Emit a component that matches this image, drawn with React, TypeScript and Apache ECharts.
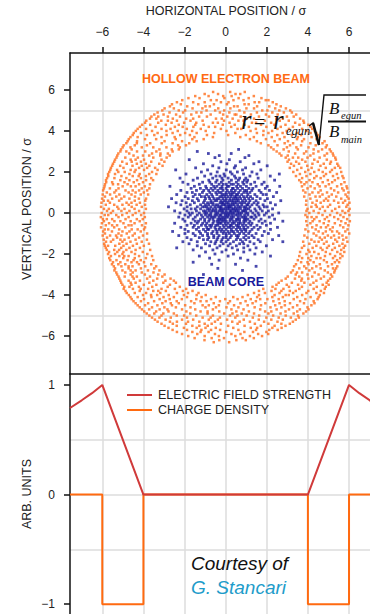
import React, { useEffect, useRef } from 'react';
import * as echarts from 'echarts';

// ---------- tick labels / grid values ----------
const xTicks = [-6, -4, -2, 0, 2, 4, 6];
const yTicksTop = [-6, -4, -2, 0, 2, 4, 6];
const yTicksBottom = [-1, 0, 1];
const yGridTop = [-5, 0, 5];
const yGridBottom = [-0.5, 0, 0.5];

// ---------- hollow electron beam (rows: [y, x-values]) ----------
const hollowRows: [number, number[]][] = [
  [5.9, [-0.61, 0.22, 0.93]],
  [5.8, [-1.02, -0.37, 0.48, 0.71]],
  [5.7, [-1.48, -0.83, -0.12, 0.29, 1.37]],
  [5.6, [-1.81, -1.27, -0.06, 0.63, 1.12, 1.74]],
  [5.5, [-2.11, -0.72, -0.44, 0.38, 0.87, 1.95, 2.08]],
  [5.4, [-2.37, -1.58, -1.02, 0.14, 1.41, 1.63, 2.29, -0.23]],
  [5.3, [-2.61, -2.18, -1.33, -0.57, 0.06, 0.92, 2.47, 1.12]],
  [5.2, [-2.71, -1.87, -0.98, -0.77, 0.41, 0.58, 1.53, 2.12, 2.68]],
  [5.1, [-2.97, -2.52, -1.61, -0.36, 0.23, 1.01, 1.38, 2.41, 2.93, -1.13]],
  [5.0, [-3.08, -2.28, -1.97, -0.93, -0.51, 0.67, 1.78, 2.03, 2.61, 3.14, -0.07]],
  [4.9, [-3.31, -2.73, -1.42, -1.18, -0.28, 0.18, 0.91, 1.52, 2.27, 2.83, 3.22, -2.07]],
  [4.8, [-3.47, -3.02, -2.41, -1.67, -0.73, 0.44, 0.52, 1.23, 1.96, 2.53, 3.43, -0.12]],
  [4.7, [-3.61, -2.81, -2.22, -1.29, -0.91, 0.08, 0.73, 1.62, 2.11, 2.98, 3.31, -3.28]],
  [4.6, [-3.68, -3.37, -1.92, -1.58, -0.47, -0.19, 1.03, 1.38, 2.47, 2.78, 3.62, 0.34, -2.57]],
  [4.5, [-3.86, -3.13, -2.37, -1.71, -1.12, -0.08, 0.62, 0.87, 1.91, 2.63, 3.07, 3.78, -2.81]],
  [4.4, [-3.92, -3.28, -2.63, -2.02, -0.62, -0.38, 0.19, 1.28, 1.48, 2.21, 3.38, 3.81, -1.43]],
  [4.3, [-4.06, -3.67, -2.91, -1.48, -1.07, -0.14, 0.44, 0.92, 1.72, 2.37, 2.91, 3.59, 4.02, -2.28]],
  [4.2, [-4.17, -3.41, -2.47, -2.09, -0.82, -0.51, 0.27, 1.13, 1.98, 2.68, 3.27, 4.13, -1.57]],
  [4.1, [-4.28, -3.87, -3.12, -2.68, -1.89, -0.23, 0.58, 0.76, 1.47, 2.52, 3.08, 3.72, 4.21, -1.21]],
  [4.0, [-4.37, -3.58, -2.88, -2.33, -1.63, -0.97, 0.04, 1.21, 1.84, 2.26, 2.97, 3.93, 4.33]],
  [3.9, [-4.47, -4.12, -3.31, -2.58, -1.97, -1.41, -0.56, 0.47, 1.52, 2.08, 2.77, 3.48, 4.13, 4.41]],
  [3.8, [-4.52, -3.83, -3.47, -2.21, -1.74, -0.91, 0.12, 0.98, 1.83, 2.51, 3.22, 3.67, 4.48, -2.87]],
  [3.7, [-4.63, -4.28, -3.12, -2.48, -1.52, -0.62, 0.71, 1.37, 2.24, 2.86, 3.51, 4.18, 4.57]],
  [3.6, [-4.71, -3.92, -3.38, -2.43, -1.62, -1.07, 1.18, 1.96, 2.63, 3.47, 3.81, 4.42]],
  [3.5, [-4.77, -4.31, -2.97, -2.12, -1.41, 1.52, 2.38, 3.03, 3.72, 4.53, 4.81]],
  [3.4, [-4.83, -3.67, -3.11, -2.58, -1.77, -4.32, 1.71, 2.87, 3.28, 4.12, 4.71]],
  [3.3, [-4.96, -4.42, -3.83, -2.31, -1.93, 2.08, 2.52, 3.67, 4.38, 4.92, 3.13]],
  [3.2, [-5.01, -4.08, -3.52, -2.88, -2.23, -4.63, 2.21, 2.98, 3.44, 4.03, 4.87]],
  [3.1, [-5.09, -4.57, -3.22, -2.62, -2.28, 2.33, 3.51, 4.28, 4.69, 5.06, 2.82]],
  [3.0, [-5.12, -4.31, -3.91, -3.37, -2.58, -4.83, 2.48, 3.07, 3.92, 4.51, 5.12]],
  [2.9, [-5.22, -4.69, -3.58, -2.81, -3.17, 2.62, 3.38, 3.81, 4.27, 4.93, 5.21]],
  [2.8, [-5.27, -4.48, -4.02, -3.18, -2.72, -3.72, 2.71, 3.02, 4.12, 4.81, 5.24]],
  [2.7, [-5.31, -4.88, -4.27, -3.52, -2.87, 2.92, 3.53, 3.98, 4.57, 5.33, 3.27]],
  [2.6, [-5.38, -4.62, -3.97, -3.12, -4.38, 3.08, 3.72, 4.31, 4.92, 5.36]],
  [2.5, [-5.42, -5.03, -4.12, -3.62, -2.98, -4.57, 3.01, 3.88, 4.48, 5.12, 3.43]],
  [2.4, [-5.48, -4.81, -3.88, -3.23, -4.32, 3.18, 3.57, 4.22, 4.77, 5.43, 5.08]],
  [2.3, [-5.52, -5.13, -4.53, -3.71, -3.07, -4.08, 3.32, 3.97, 4.61, 5.48]],
  [2.2, [-5.58, -4.97, -4.21, -3.43, -3.82, 3.12, 3.68, 4.18, 4.87, 5.31, 5.57]],
  [2.1, [-5.61, -5.28, -4.62, -3.97, -3.31, -4.38, 3.48, 4.02, 4.53, 5.17]],
  [2.0, [-5.66, -4.91, -4.43, -3.58, -5.22, 3.29, 3.87, 4.72, 5.08, 5.62, 4.31]],
  [1.9, [-5.72, -5.38, -4.18, -3.72, -3.37, -4.68, 3.61, 4.12, 4.88, 5.41]],
  [1.8, [-5.71, -5.07, -4.52, -3.88, -4.23, 3.42, 3.93, 4.42, 5.22, 5.68, 4.78]],
  [1.7, [-5.77, -5.41, -4.83, -3.62, -4.12, 3.72, 4.31, 4.62, 5.47, 5.73]],
  [1.6, [-5.82, -5.12, -4.68, -4.31, -3.53, -3.87, 3.58, 4.08, 4.97, 5.31]],
  [1.5, [-5.81, -5.52, -4.92, -4.02, -4.47, 3.67, 4.22, 4.72, 5.18, 5.78, 3.93]],
  [1.4, [-5.87, -5.23, -4.77, -3.68, -4.21, -5.48, 3.83, 4.48, 5.02, 5.62]],
  [1.3, [-5.89, -5.01, -4.38, -3.93, -4.61, 3.71, 4.13, 4.86, 5.42, 5.88, 4.57]],
  [1.2, [-5.92, -5.63, -5.21, -4.08, -3.71, 3.98, 4.33, 5.12, 5.67, 5.91]],
  [1.1, [-5.96, -4.87, -4.52, -3.82, -5.33, -4.21, 3.77, 4.62, 5.28, 5.74]],
  [1.0, [-5.78, -5.41, -4.72, -3.98, -4.38, 3.88, 4.22, 4.93, 5.47, 5.97, 4.51]],
  [0.9, [-5.98, -5.17, -4.58, -4.13, -3.77, -5.62, 4.08, 4.71, 5.16, 5.83]],
  [0.8, [-5.87, -5.32, -4.93, -4.41, 3.82, 4.37, 4.58, 5.38, 5.91, 5.02]],
  [0.7, [-6.01, -5.52, -5.07, -4.68, -3.87, -4.22, 4.12, 4.88, 5.62, 5.98]],
  [0.6, [-5.72, -5.18, -4.42, -3.91, -5.93, 3.92, 4.43, 4.78, 5.27, 5.81, 4.98]],
  [0.5, [-6.04, -5.63, -4.82, -4.17, -4.58, 4.22, 4.62, 5.48, 5.71, 6.02]],
  [0.4, [-5.83, -5.42, -5.02, -4.33, -3.92, -4.71, 3.91, 4.38, 5.08, 5.93]],
  [0.3, [-6.06, -5.27, -4.57, -4.08, 4.17, 4.72, 4.97, 5.52, 5.87, 4.43]],
  [0.2, [-5.92, -5.68, -4.92, -4.43, -3.88, -5.21, 3.98, 4.58, 5.33, 6.03]],
  [0.1, [-5.77, -5.07, -4.68, -4.21, -5.48, 4.28, 4.83, 5.17, 5.68, 5.97, 3.93]],
  [0.0, [-6.03, -5.58, -4.81, -3.97, -4.38, 4.07, 4.52, 5.42, 5.81]],
  [-0.1, [-5.88, -5.32, -5.03, -4.52, -4.11, -5.71, 3.88, 4.71, 5.08, 5.58, 6.02]],
  [-0.2, [-6.07, -5.21, -4.72, -3.93, 4.18, 4.42, 4.93, 5.73, 5.28, 3.97]],
  [-0.3, [-5.78, -5.52, -4.87, -4.32, -4.03, -5.97, 4.31, 4.82, 5.47, 5.91]],
  [-0.4, [-5.92, -5.12, -4.62, -4.18, -5.41, 3.92, 4.57, 5.02, 5.62, 6.04, 4.23]],
  [-0.5, [-6.02, -5.67, -4.97, -4.43, -3.88, 4.12, 4.77, 5.31, 5.83]],
  [-0.6, [-5.83, -5.28, -4.72, -4.07, -5.52, -4.58, 3.96, 4.42, 4.98, 5.57, 5.97]],
  [-0.7, [-6.06, -5.42, -4.88, -3.92, 4.21, 4.63, 5.21, 5.72, 4.88]],
  [-0.8, [-5.71, -5.18, -4.57, -4.28, -3.97, -5.88, 3.88, 4.38, 5.08, 5.93]],
  [-0.9, [-5.96, -5.53, -5.02, -4.68, -4.13, 4.02, 4.52, 4.87, 5.42, 5.82, 5.18]],
  [-1.0, [-5.87, -5.21, -4.81, -3.82, -4.42, 4.28, 4.73, 5.52, 6.01]],
  [-1.1, [-5.98, -5.62, -5.07, -4.52, -4.02, -5.33, 3.83, 4.41, 4.97, 5.68, 5.27]],
  [-1.2, [-5.77, -5.28, -4.71, -4.21, 3.97, 4.58, 5.13, 5.87, 4.82, 5.51]],
  [-1.3, [-5.93, -5.47, -4.92, -4.38, -3.83, -5.12, 4.17, 4.68, 5.33, 5.72]],
  [-1.4, [-5.82, -5.58, -4.63, -4.08, -5.02, 3.77, 4.32, 4.91, 5.42, 5.92, 4.52]],
  [-1.5, [-5.91, -5.17, -4.82, -4.32, -3.73, 4.07, 4.78, 5.23, 5.68]],
  [-1.6, [-5.72, -5.37, -4.97, -4.51, -3.98, -5.88, 3.82, 4.41, 5.02, 5.53, 5.81]],
  [-1.7, [-5.83, -5.08, -4.68, -4.17, 3.71, 4.23, 4.62, 5.31, 5.74, 4.93]],
  [-1.8, [-5.78, -5.42, -4.83, -4.38, -3.67, -5.18, 4.02, 4.71, 5.18, 5.62]],
  [-1.9, [-5.67, -5.27, -4.58, -4.03, -4.97, 3.62, 4.31, 4.87, 5.43, 5.77, 4.08]],
  [-2.0, [-5.72, -5.02, -4.41, -3.81, -5.38, 3.93, 4.52, 5.08, 5.58]],
  [-2.1, [-5.58, -5.17, -4.72, -4.21, -3.58, -4.93, 3.58, 4.17, 4.83, 5.32, 5.68]],
  [-2.2, [-5.66, -4.98, -4.42, -3.88, 3.72, 4.42, 4.61, 5.22, 5.57, 4.02]],
  [-2.3, [-5.61, -5.31, -4.77, -4.13, -3.52, -4.48, 3.51, 4.12, 4.78, 5.42]],
  [-2.4, [-5.48, -5.12, -4.58, -3.97, -4.31, 3.67, 4.28, 4.92, 5.31, 5.52, 3.98]],
  [-2.5, [-5.53, -4.88, -4.22, -3.62, -5.22, 3.42, 4.03, 4.58, 5.17]],
  [-2.6, [-5.44, -5.07, -4.53, -3.91, -3.38, -4.72, 3.33, 3.82, 4.41, 4.98, 5.43]],
  [-2.7, [-5.38, -4.72, -4.12, -3.47, 3.58, 3.92, 4.62, 5.22, 5.37, 4.21]],
  [-2.8, [-5.41, -5.02, -4.38, -3.78, -3.22, -4.62, 3.27, 4.07, 4.82, 5.31]],
  [-2.9, [-5.32, -4.88, -4.08, -3.51, -4.52, 3.18, 3.72, 4.33, 4.97, 5.28, 3.47]],
  [-3.0, [-5.28, -4.62, -3.93, -3.28, -2.97, 3.41, 3.98, 4.52, 5.12]],
  [-3.1, [-5.21, -4.91, -4.32, -3.68, -3.08, -4.53, 3.02, 3.58, 4.21, 4.78, 5.18]],
  [-3.2, [-5.17, -4.47, -3.82, -3.33, -2.68, 2.92, 3.37, 4.02, 4.63, 5.08, 3.71]],
  [-3.3, [-5.12, -4.72, -4.17, -3.52, -2.93, -2.52, 2.72, 3.68, 4.41, 4.98]],
  [-3.4, [-5.08, -4.38, -3.71, -3.03, -2.42, -4.62, 2.58, 3.22, 3.83, 4.27, 4.91]],
  [-3.5, [-5.02, -4.58, -3.98, -3.37, -2.71, 2.47, 2.97, 3.52, 4.12, 4.72, 5.01]],
  [-3.6, [-4.93, -4.22, -3.57, -2.82, -2.23, -4.68, 2.28, 3.08, 3.71, 4.43, 4.87]],
  [-3.7, [-4.96, -4.51, -3.77, -3.12, -2.47, -1.92, 1.83, 2.42, 2.81, 3.58, 4.28, 4.82, -4.13]],
  [-3.8, [-4.87, -4.18, -3.52, -2.91, -2.08, -1.61, 1.62, 2.23, 3.12, 3.41, 4.02, 4.63, -3.28, 2.71]],
  [-3.9, [-4.81, -4.42, -3.87, -3.18, -2.37, -1.83, -1.32, 1.38, 1.91, 2.62, 3.28, 3.93, 4.41, 4.78]],
  [-4.0, [-4.71, -4.02, -3.33, -2.77, -2.03, -1.41, -0.97, 1.08, 1.62, 2.38, 3.07, 3.72, 4.58, -3.63, 2.92]],
  [-4.1, [-4.63, -4.28, -3.61, -2.52, -1.88, -1.17, -0.48, 0.37, 0.82, 1.53, 2.27, 2.78, 3.48, 4.13, 4.52, -3.02]],
  [-4.2, [-4.57, -3.97, -3.21, -2.72, -2.13, -1.43, -0.71, -0.02, 0.58, 1.22, 2.03, 2.58, 3.31, 3.88, 4.47, 1.68]],
  [-4.3, [-4.48, -4.12, -3.48, -2.92, -2.38, -1.68, -0.93, -0.28, 0.21, 0.97, 1.47, 2.32, 2.87, 3.62, 4.28, -1.22]],
  [-4.4, [-4.38, -3.77, -3.08, -2.28, -1.52, -0.58, 0.12, 0.72, 1.31, 1.93, 2.62, 3.13, 3.81, 4.32, -2.67]],
  [-4.5, [-4.28, -3.92, -3.32, -2.61, -1.97, -1.12, -0.33, 0.41, 1.07, 1.72, 2.41, 3.48, 4.17, -0.82, 2.88]],
  [-4.6, [-4.18, -3.58, -2.98, -2.42, -1.71, -0.98, 0.04, 0.62, 1.41, 2.18, 2.71, 3.27, 3.98, -0.47]],
  [-4.7, [-4.07, -3.72, -3.21, -2.12, -1.48, -0.62, 0.28, 0.87, 1.68, 2.48, 3.08, 3.61, 4.03, -2.83]],
  [-4.8, [-3.96, -3.38, -2.78, -1.91, -1.22, -0.31, 0.52, 1.13, 1.92, 2.22, 2.91, 3.48, 3.91, -0.88]],
  [-4.9, [-3.84, -3.47, -2.52, -1.72, -0.88, -0.07, 0.78, 1.38, 2.08, 2.67, 3.31, 3.78, -3.03, 0.33]],
  [-5.0, [-3.71, -3.12, -2.38, -1.43, -0.62, 0.21, 1.02, 1.63, 2.31, 2.92, 3.52, -2.02, 0.57]],
  [-5.1, [-3.58, -3.22, -2.67, -1.88, -1.12, -0.28, 0.47, 1.32, 1.98, 2.58, 3.17, 3.56, -0.73]],
  [-5.2, [-3.44, -2.92, -2.12, -1.58, -0.82, 0.07, 0.88, 1.61, 2.22, 2.78, 3.41, -0.38]],
  [-5.3, [-3.31, -2.71, -2.37, -1.28, -0.52, 0.32, 1.18, 1.87, 2.52, 3.27, -1.83, 0.68]],
  [-5.4, [-3.12, -2.57, -1.93, -1.02, -0.23, 0.58, 1.42, 2.08, 2.71, 3.12, -0.68]],
  [-5.5, [-2.97, -2.38, -1.62, -0.87, 0.12, 0.92, 1.71, 2.38, 2.91, -1.28]],
  [-5.6, [-2.78, -2.03, -1.41, -0.48, 0.37, 1.22, 1.53, 2.27, 2.72, -0.98]],
  [-5.7, [-2.58, -1.88, -1.18, -0.27, 0.62, 1.48, 2.12, 2.53, -0.71]],
  [-5.8, [-2.37, -1.62, -0.83, 0.03, 0.91, 1.33, 1.98, -1.22]],
  [-5.9, [-2.12, -1.38, -0.52, 0.28, 0.72, 1.58, 2.07]],
  [-6.0, [-1.82, -1.02, -0.33, 0.47, 1.18, 1.77]],
  [-6.1, [-1.51, -0.68, -0.08, 0.82, 1.37]],
  [-6.2, [-1.03, -0.31, 0.52, 0.98]],
  [-6.3, [-0.58, 0.17]],
];

// ---------- beam core (rows: [y, x-values]) ----------
const coreRows: [number, number[]][] = [
  [3.1, [0.63]],
  [3.0, [-1.38]],
  [2.9, [0.27, -0.84]],
  [2.8, [1.13, -0.31]],
  [2.7, [-0.52, 0.94]],
  [2.6, [-1.77, 0.18]],
  [2.5, [0.71, -0.23, 1.62]],
  [2.4, [-1.08, 1.37, 0.06]],
  [2.3, [0.48, -0.63, 2.02]],
  [2.2, [-0.33, 0.97, -1.46, 0.42]],
  [2.1, [0.82, -0.88, 0.03, 1.71, -2.43]],
  [2.0, [-0.41, 0.57, -1.18, 1.28, 0.23]],
  [1.9, [0.87, -0.72, 0.31, -1.93, 1.52, -0.08, 2.61]],
  [1.8, [-0.47, 1.18, 0.43, -1.02, -0.04, 2.17, -0.28]],
  [1.7, [0.68, -1.37, 0.12, 1.58, -0.63, 0.49, -0.18, 0.98, -2.22]],
  [1.6, [-0.82, 0.28, 1.07, -1.58, 0.62, -0.13, 2.38, -0.42, 0.91]],
  [1.5, [0.17, -1.12, 0.83, -0.48, 1.41, -2.08, 0.52, -0.21, 1.03, -0.77, 1.87]],
  [1.4, [-0.32, 0.61, -1.28, 1.22, 0.03, -0.68, 1.76, 0.38, -1.83, 0.88, -0.12, 0.27]],
  [1.3, [0.72, -0.43, 1.48, -0.97, 0.16, -0.58, 2.63, 0.53, -1.52, 1.01, -0.18, 0.08, -2.71, 2.02]],
  [1.2, [-0.93, 0.37, 1.32, -0.17, 0.82, -1.68, 0.02, 1.93, -0.52, 0.58, -1.23, 1.13, -0.27, 0.33, -0.71]],
  [1.1, [0.47, -1.42, 0.08, 1.02, -0.62, 1.63, -0.13, 0.71, -2.18, 0.28, -0.83, 1.27, -0.38, 0.92, 2.13, -1.07]],
  [1.0, [-0.22, 0.88, -1.13, 0.42, 1.72, -0.48, 0.02, -1.62, 1.18, 0.63, -0.77, 2.48, -0.33, 0.17, 1.02, -1.88, 0.31]],
  [0.9, [0.32, -0.68, 1.42, -1.27, 0.78, -0.07, 0.51, -2.38, 1.08, -0.43, 0.04, 1.82, -0.92, 0.58, -1.48, 0.22, 1.98, -0.18]],
  [0.8, [-0.63, 1.03, 0.12, -1.18, 0.68, -0.28, 1.52, -1.97, 0.43, -0.82, 1.21, -0.03, -1.58, 0.87, -0.17, 2.32, 0.52, -1.02, 0.27]],
  [0.7, [0.58, -0.42, 1.31, -0.98, 0.21, -1.82, 0.92, -0.13, 1.68, -0.57, 0.37, -2.63, 1.12, -0.32, 0.03, -1.38, 0.73, 2.03, -0.78, 0.48]],
  [0.6, [-0.08, 0.82, -1.32, 0.28, 1.48, -0.71, 0.02, -2.12, 0.98, -0.43, 0.52, 1.91, -1.03, 0.17, -0.23, 1.18, -1.62, 0.62, -0.52, 2.68, 0.38]],
  [0.5, [0.42, -0.88, 1.12, -0.18, 0.68, -1.52, 0.13, 2.18, -0.62, 1.38, -0.27, 0.03, -1.08, 0.93, -1.92, 0.31, 1.58, -0.73, 0.52, -0.12, -2.41, 0.81]],
  [0.4, [-0.48, 0.22, 1.28, -1.22, 0.58, -0.18, 1.82, -0.83, -0.02, -1.72, 1.03, 0.41, -0.37, 2.42, -0.98, 0.78, -0.08, 1.52, -2.18, 0.32, -0.62, 1.08, 0.12]],
  [0.3, [0.13, -1.02, 0.88, -0.28, 1.62, -1.38, 0.47, -0.72, 0.01, 2.02, -1.87, 0.72, -0.22, 1.18, -0.52, 0.27, -1.12, 1.88, -0.91, 0.62, -2.78, 0.18, 0.98, -0.38]],
  [0.2, [-0.27, 0.72, -1.48, 1.12, 0.18, -0.78, 1.68, -0.12, 0.38, -2.02, 0.92, -0.48, 1.42, -0.03, -1.22, 2.28, -0.62, 0.58, -0.22, 1.02, -1.68, 0.32, -0.88, 0.08, 0.48]],
  [0.1, [0.52, -0.58, 1.22, -1.08, 0.03, 0.82, -1.88, 1.48, -0.32, 0.28, -0.82, 2.08, -1.42, 0.62, -0.13, 0.97, -2.48, 0.21, -0.47, 1.78, -0.98, 0.43, -0.22, 0.88, -0.68]],
  [0.0, [-0.18, 0.98, -0.92, 0.32, 1.58, -1.28, 0.58, -0.48, 0.02, 1.98, -1.78, 0.78, -0.08, 1.32, -0.72, 0.41, -2.22, 1.08, -0.38, 0.22, -1.02, 0.68, -1.62, 2.58, 0.12]],
  [-0.1, [0.18, -0.72, 0.92, -1.38, 1.42, -0.23, 0.48, -0.98, -0.02, 1.88, -0.52, 0.72, -1.98, 1.08, -0.28, 0.33, -1.18, 1.62, -0.82, 0.08, 2.28, -1.72, 0.58, -0.42]],
  [-0.2, [-0.62, 0.38, -1.12, 1.28, 0.12, -0.32, 0.78, -1.82, 0.98, -0.08, 0.62, -0.88, 2.12, -1.48, 0.28, -0.52, 1.48, 0.03, -2.28, 0.88, -0.18, 1.22, -0.72]],
  [-0.3, [0.68, -0.38, 1.08, -1.22, 0.22, -0.78, 1.72, -0.02, -1.58, 0.52, -0.12, 1.38, -0.62, 0.31, -2.08, 0.91, -0.28, 2.38, -1.02, 0.58, -0.22, 0.98]],
  [-0.4, [-0.32, 0.88, -1.02, 0.38, 1.62, -0.58, 0.03, -1.48, 1.18, -0.18, 0.68, -1.98, 0.21, -0.82, 1.92, -0.42, 0.52, -1.32, 0.98, -0.08, 2.78]],
  [-0.5, [0.12, -0.92, 1.28, -0.38, 0.62, -1.68, 0.88, -0.22, 1.78, -1.12, 0.32, -0.62, -0.02, 2.18, -1.38, 0.72, -0.28, 1.12, -2.48, 0.42]],
  [-0.6, [-0.48, 0.52, -1.18, 0.98, 0.22, -0.12, 1.52, -0.78, 0.82, -1.88, 0.03, -0.38, 1.22, -0.98, 0.28, 1.98, -0.68, 0.62, -1.52]],
  [-0.7, [0.38, -0.28, 1.38, -1.32, 0.12, -0.72, 0.88, -2.18, 0.58, -0.08, 1.68, -0.92, 0.22, -0.52, 1.08, -1.58, 0.68, 2.52]],
  [-0.8, [-0.18, 0.98, -0.82, 0.28, -1.42, 1.58, 0.02, -0.48, 0.72, -1.08, 1.28, -1.98, 0.52, -0.32, 0.88, 2.18, -0.88]],
  [-0.9, [0.58, -0.62, 1.18, -0.98, 0.12, -1.82, 0.78, -0.22, 1.88, -0.42, 0.38, -1.28, 0.98, -0.08, -2.58, 0.28]],
  [-1.0, [-0.42, 0.68, -1.22, 1.48, 0.02, -0.68, 0.88, -1.58, 0.42, -0.12, 2.08, -0.88, 1.12, 0.18, -1.98]],
  [-1.1, [0.28, -0.88, 1.28, -0.32, 0.62, -1.48, 1.78, -0.58, 0.03, 0.98, -1.12, 0.52, -2.28, 2.58]],
  [-1.2, [-0.58, 0.88, -1.28, 0.22, 1.38, -0.12, -0.82, 0.58, -1.88, 1.12, 0.02, -0.38]],
  [-1.3, [0.52, -0.42, 1.58, -1.08, 0.12, -0.88, 0.98, -1.68, 0.72, 2.28, -0.18]],
  [-1.4, [-0.22, 1.18, -1.38, 0.38, -0.72, 0.82, -2.08, 1.68, 0.02, -0.48, 2.78]],
  [-1.5, [0.68, -0.98, 0.22, 1.38, -0.52, -1.78, 0.88, -0.12]],
  [-1.6, [-0.78, 0.52, 1.08, -0.28, 1.98, -1.38, 0.12]],
  [-1.7, [0.32, -1.18, 0.88, -0.42, 1.48, -2.38]],
  [-1.8, [-0.62, 0.58, -1.58, 1.18, 0.02]],
  [-1.9, [0.88, -0.18, -0.98, 1.78]],
  [-2.0, [-0.52, 0.38, 1.42]],
  [-2.1, [0.12, -1.28, 2.18]],
  [-2.2, [-0.78, 0.72]],
  [-2.3, [1.08, -0.32]],
  [-2.4, [-1.58]],
  [-2.5, [0.48, -0.68]],
  [-2.6, [1.48]],
  [-2.7, [-0.38]],
  [-2.8, [0.82]],
  [-3.0, [-1.08]],
];

// ---------- lower panel curves ----------
const fieldX = [-7.57, -7.0, -6.5, -6.0, -4.0, 4.0, 6.0, 6.5, 7.0, 7.5];
const fieldY = [0.79, 0.86, 0.925, 1.0, 0.0, 0.0, 1.0, 0.925, 0.86, 0.8];
const chargeX = [-7.57, -6.0, -6.0, -4.0, -4.0, 4.0, 4.0, 6.0, 6.0, 7.5];
const chargeY = [0, 0, -1, -1, 0, 0, -1, -1, 0, 0];

const seriesNames = ['ELECTRIC FIELD STRENGTH', 'CHARGE DENSITY'];

const FONT = '"Liberation Sans", Arial, Helvetica, sans-serif';
const SERIF = '"Liberation Serif", "Times New Roman", serif';
const fmt = (v: number) => (v < 0 ? '\u2212' + Math.abs(v) : String(v));

const X_MIN = -7.57;
const X_MAX = 7.02;

export default function App() {
  const ref = useRef<HTMLDivElement>(null);

  useEffect(() => {
    if (!ref.current) return;
    const chart = echarts.init(ref.current, undefined, { renderer: 'svg' });

    const hollowPts = hollowRows.flatMap(([y, xs]) => xs.map((x) => [x, y]));
    const corePts = coreRows.flatMap(([y, xs]) => xs.map((x) => [x, y]));
    const fieldPts = fieldX.map((x, i) => [x, fieldY[i]]);
    const chargePts = chargeX.map((x, i) => [x, chargeY[i]]);

    const axisLineStyle = { color: '#111', width: 1.5 };
    const gridLineStyle = { color: '#dcdcdc', width: 1.5 };
    const labelStyle = { fontSize: 12, color: '#222', fontFamily: FONT };
    const mid = { verticalAlign: 'middle', textVerticalAlign: 'middle' };
    const ctr = { align: 'center', textAlign: 'center', ...mid };

    const option: any = {
      animation: false,
      backgroundColor: '#fff',
      textStyle: { fontFamily: FONT },
      grid: [
        { left: 70, top: 53, width: 300, height: 321 },
        { left: 70, top: 374, width: 300, height: 240 },
      ],
      xAxis: [
        {
          gridIndex: 0, type: 'value', min: X_MIN, max: X_MAX, position: 'top',
          axisLine: { show: true, onZero: false, lineStyle: axisLineStyle },
          axisTick: { show: true, inside: false, length: 6, customValues: xTicks, lineStyle: axisLineStyle },
          axisLabel: { show: true, customValues: xTicks, formatter: fmt, margin: 15, ...labelStyle },
          splitLine: { show: true, lineStyle: gridLineStyle },
        },
        {
          gridIndex: 1, type: 'value', min: X_MIN, max: X_MAX, position: 'top',
          axisLine: { show: true, onZero: false, lineStyle: axisLineStyle },
          axisTick: { show: false, customValues: xTicks },
          axisLabel: { show: false },
          splitLine: { show: true, lineStyle: gridLineStyle },
        },
      ],
      yAxis: [
        {
          gridIndex: 0, type: 'value', min: -7.85, max: 7.8, position: 'left',
          axisLine: { show: true, onZero: false, lineStyle: axisLineStyle },
          axisTick: { show: true, inside: false, length: 6, customValues: yTicksTop, lineStyle: axisLineStyle },
          axisLabel: { show: true, customValues: yTicksTop, formatter: fmt, margin: 15, ...labelStyle },
          splitLine: { show: false },
        },
        {
          gridIndex: 1, type: 'value', min: -1.09, max: 1.1, position: 'left',
          axisLine: { show: true, onZero: false, lineStyle: axisLineStyle },
          axisTick: { show: true, inside: false, length: 6, customValues: yTicksBottom, lineStyle: axisLineStyle },
          axisLabel: { show: true, customValues: yTicksBottom, formatter: fmt, margin: 15, ...labelStyle },
          splitLine: { show: false },
        },
        {
          gridIndex: 0, type: 'value', min: -7.85, max: 7.8, position: 'right',
          axisLine: { show: false },
          axisTick: { show: false, customValues: yGridTop },
          axisLabel: { show: false },
          splitLine: { show: true, lineStyle: gridLineStyle },
        },
        {
          gridIndex: 1, type: 'value', min: -1.09, max: 1.1, position: 'right',
          axisLine: { show: false },
          axisTick: { show: false, customValues: yGridBottom },
          axisLabel: { show: false },
          splitLine: { show: true, lineStyle: gridLineStyle },
        },
      ],
      legend: {
        data: seriesNames,
        orient: 'vertical',
        left: 122,
        top: 382.5,
        icon: 'rect',
        itemWidth: 25,
        itemHeight: 2,
        itemGap: 0,
        selectedMode: false,
        textStyle: { fontSize: 12.5, color: '#222', fontFamily: FONT, lineHeight: 15, padding: [0, 0, 0, 1] },
      },
      series: [
        {
          name: 'HOLLOW', type: 'scatter', xAxisIndex: 0, yAxisIndex: 0,
          data: hollowPts, symbol: 'rect', symbolSize: 2.5,
          itemStyle: { color: '#ff6d1a' }, z: 3, silent: true,
        },
        {
          name: 'CORE', type: 'scatter', xAxisIndex: 0, yAxisIndex: 0,
          data: corePts, symbol: 'rect', symbolSize: 2.8,
          itemStyle: { color: '#1a1a99' }, z: 3, silent: true,
        },
        {
          name: seriesNames[1], type: 'line', xAxisIndex: 1, yAxisIndex: 1,
          data: chargePts, showSymbol: false, symbol: 'none', clip: true,
          lineStyle: { color: '#ff6a10', width: 2 }, itemStyle: { color: '#ff6a10' }, z: 3,
        },
        {
          name: seriesNames[0], type: 'line', xAxisIndex: 1, yAxisIndex: 1,
          data: fieldPts, showSymbol: false, symbol: 'none', clip: true,
          lineStyle: { color: '#d03a3a', width: 2 }, itemStyle: { color: '#d03a3a' }, z: 4,
        },
      ],
      graphic: [
        { type: 'text', x: 226, y: 11, style: { text: 'HORIZONTAL POSITION / \u03c3', fontSize: 12.5, fontFamily: FONT, fill: '#222', ...ctr } },
        { type: 'text', x: 27, y: 209, rotation: Math.PI / 2, style: { text: 'VERTICAL POSITION / \u03c3', fontSize: 12.5, fontFamily: FONT, fill: '#222', ...ctr } },
        { type: 'text', x: 27, y: 494, rotation: Math.PI / 2, style: { text: 'ARB. UNITS', fontSize: 12.5, fontFamily: FONT, fill: '#222', ...ctr } },
        { type: 'text', x: 226, y: 79, z: 10, style: { text: 'HOLLOW ELECTRON BEAM', fontSize: 12.5, fontWeight: 'bold', fontFamily: FONT, fill: '#ff6a13', ...ctr } },
        { type: 'text', x: 226, y: 282, z: 10, style: { text: 'BEAM CORE', fontSize: 12.5, fontWeight: 'bold', fontFamily: FONT, fill: '#1a1a9c', ...ctr } },
        // formula r = r_egun sqrt(B_egun / B_main)
        { type: 'text', x: 241, y: 120, z: 10, style: { text: 'r', fontSize: 27, fontStyle: 'italic', fontFamily: SERIF, fill: '#111', ...mid } },
        { type: 'text', x: 254, y: 122, z: 10, style: { text: '=', fontSize: 20, fontFamily: SERIF, fill: '#111', ...mid } },
        { type: 'text', x: 273, y: 120, z: 10, style: { text: 'r', fontSize: 27, fontStyle: 'italic', fontFamily: SERIF, fill: '#111', ...mid } },
        { type: 'text', x: 286, y: 131, z: 10, style: { text: 'egun', fontSize: 12.5, fontStyle: 'italic', fontFamily: SERIF, fill: '#111', ...mid } },
        { type: 'polyline', z: 10, shape: { points: [[309, 126], [313, 123], [319, 145], [324, 95], [366, 95]] }, style: { stroke: '#111', lineWidth: 1.4, fill: 'none' } },
        { type: 'line', z: 10, shape: { x1: 313, y1: 123, x2: 319, y2: 145 }, style: { stroke: '#111', lineWidth: 2.6 } },
        { type: 'line', z: 10, shape: { x1: 328, y1: 121.5, x2: 366, y2: 121.5 }, style: { stroke: '#111', lineWidth: 2 } },
        { type: 'text', x: 329, y: 108, z: 10, style: { text: 'B', fontSize: 17, fontStyle: 'italic', fontFamily: SERIF, fill: '#111', ...mid } },
        { type: 'text', x: 341, y: 115.5, z: 10, style: { text: 'egun', fontSize: 10.5, fontStyle: 'italic', fontFamily: SERIF, fill: '#111', ...mid } },
        { type: 'text', x: 329, y: 131, z: 10, style: { text: 'B', fontSize: 17, fontStyle: 'italic', fontFamily: SERIF, fill: '#111', ...mid } },
        { type: 'text', x: 341, y: 139.5, z: 10, style: { text: 'main', fontSize: 10.5, fontStyle: 'italic', fontFamily: SERIF, fill: '#111', ...mid } },
        // courtesy
        { type: 'text', x: 191, y: 563, z: 10, style: { text: 'Courtesy of', fontSize: 19, fontStyle: 'italic', fontFamily: FONT, fill: '#111', ...mid } },
        { type: 'text', x: 191, y: 587, z: 10, style: { text: 'G. Stancari', fontSize: 19, fontStyle: 'italic', fontFamily: FONT, fill: '#1e9cca', ...mid } },
      ],
    };

    chart.setOption(option);
    return () => chart.dispose();
  }, []);

  return (
    <div
      ref={ref}
      style={{ position: 'absolute', left: 0, top: 0, width: 370, height: 614 }}
    />
  );
}
